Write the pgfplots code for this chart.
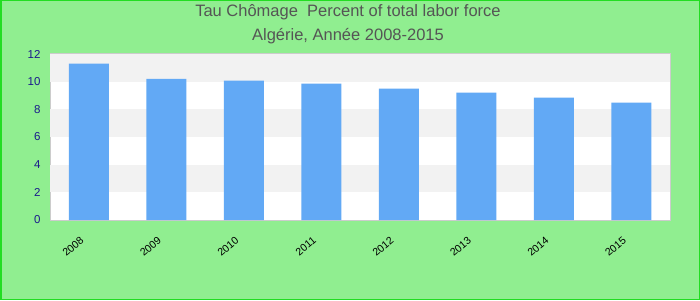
\documentclass[border=0pt]{standalone}
\usepackage{fontspec}
\setmainfont{Liberation Sans}
\usepackage{pgfplots}
\pgfplotsset{compat=1.18}
\definecolor{bg}{HTML}{90EE90}
\definecolor{frame}{HTML}{22DD22}
\definecolor{barc}{HTML}{62A9F5}
\definecolor{band}{HTML}{F2F2F2}
\definecolor{titlec}{HTML}{555555}
\definecolor{ytick}{HTML}{1A1A8C}
\begin{document}
\begin{tikzpicture}[x=1pt,y=1pt]
\fill[bg] (0,0) rectangle (700,300);
\draw[frame,line width=1.5pt] (0.75,0.75) rectangle (699.25,299.25);
\useasboundingbox (0,0) rectangle (700,300);
\node[font=\fontsize{16.5}{18}\selectfont,text=titlec] at (348,287.5) {Tau Chômage\ \ Percent of total labor force};
\node[font=\fontsize{16.5}{18}\selectfont,text=titlec] at (348,264) {Algérie, Année 2008-2015};
\begin{axis}[
  at={(50pt,80pt)}, anchor=south west,
  scale only axis, width=620pt, height=166pt,
  xmin=-0.5, xmax=7.5, ymin=0, ymax=12,
  ybar, bar width=40pt,
  axis line style={draw=black!20, line width=1pt},
  axis background/.style={fill=white},
  xtick=data,
  xticklabels={2008,2009,2010,2011,2012,2013,2014,2015},
  x tick label style={rotate=40, anchor=north east, font=\fontsize{10.5}{11}\selectfont, text=black, xshift=-14pt, yshift=-3pt},
  ytick={0,2,4,6,8,10,12},
  y tick label style={font=\fontsize{11.5}{12}\selectfont, text=ytick, xshift=-6pt},
  /pgf/number format/assume math mode=true,
  major tick length=0pt,
  clip=false,
]
\fill[band] (axis cs:-0.5,2) rectangle (axis cs:7.5,4);
\fill[band] (axis cs:-0.5,6) rectangle (axis cs:7.5,8);
\fill[band] (axis cs:-0.5,10) rectangle (axis cs:7.5,12);
\addplot[fill=barc, draw=none] coordinates {
(0,11.3) (1,10.2) (2,10.07) (3,9.86) (4,9.49) (5,9.2) (6,8.84) (7,8.48)};
\end{axis}
\end{tikzpicture}
\end{document}
